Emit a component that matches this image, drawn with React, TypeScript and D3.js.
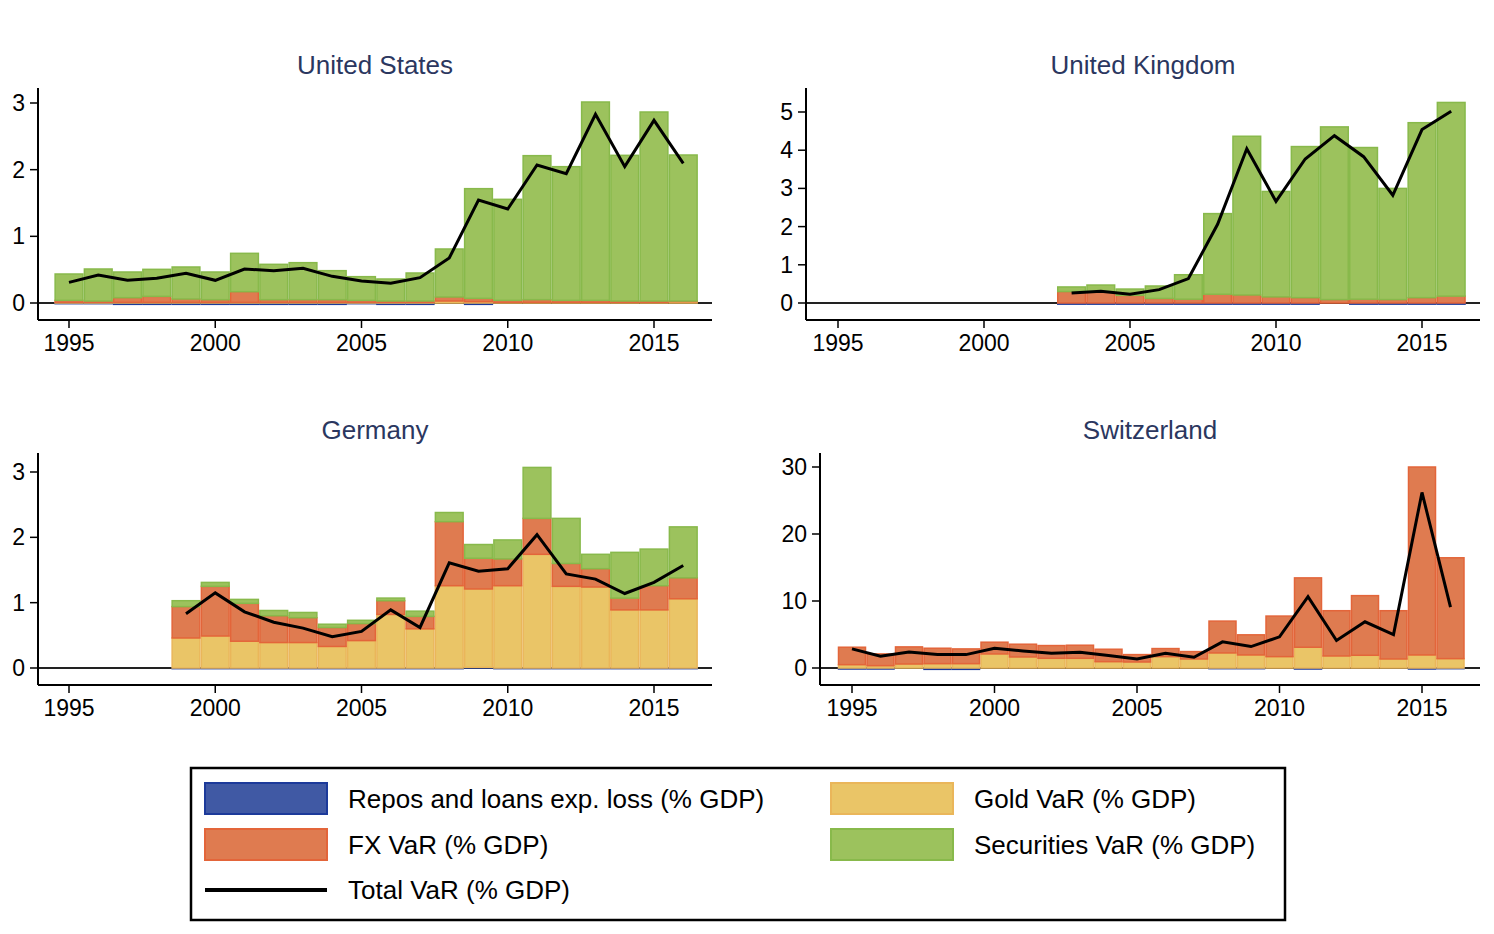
import React, { useEffect } from 'react';
import * as d3 from 'd3';

// ---- data (% of GDP) ----
const usYears = [1995, 1996, 1997, 1998, 1999, 2000, 2001, 2002, 2003, 2004, 2005, 2006, 2007, 2008, 2009, 2010, 2011, 2012, 2013, 2014, 2015, 2016];
const usRepos = [-0.01, -0.01, -0.02, -0.02, -0.02, -0.02, -0.02, -0.02, -0.02, -0.02, -0.01, -0.02, -0.02, 0, -0.02, 0, 0, 0, 0, 0, 0, 0];
const usGold = [0.01, 0.01, 0.01, 0.01, 0.01, 0.01, 0.01, 0.01, 0.01, 0.01, 0.01, 0.01, 0.01, 0.03, 0.02, 0.01, 0.01, 0.01, 0.01, 0.01, 0.01, 0.02];
const usFx = [0.03, 0.02, 0.07, 0.09, 0.05, 0.04, 0.16, 0.04, 0.04, 0.04, 0.03, 0.02, 0.02, 0.06, 0.05, 0.03, 0.04, 0.03, 0.03, 0.02, 0.02, 0.01];
const usSec = [0.395, 0.48, 0.385, 0.405, 0.48, 0.415, 0.575, 0.53, 0.555, 0.435, 0.355, 0.33, 0.42, 0.72, 1.645, 1.515, 2.16, 2.005, 2.975, 2.185, 2.835, 2.19];
const usTotal = [0.31, 0.42, 0.34, 0.37, 0.445, 0.34, 0.51, 0.485, 0.52, 0.4, 0.33, 0.295, 0.38, 0.675, 1.545, 1.41, 2.07, 1.94, 2.83, 2.045, 2.74, 2.095];

const ukYears = [2003, 2004, 2005, 2006, 2007, 2008, 2009, 2010, 2011, 2012, 2013, 2014, 2015, 2016];
const ukRepos = [-0.03, -0.03, -0.03, -0.03, -0.03, -0.03, -0.03, -0.03, -0.03, 0, -0.03, -0.03, -0.03, -0.03];
const ukGold = [0, 0, 0, 0, 0, 0, 0, 0, 0, 0, 0, 0, 0, 0];
const ukFx = [0.3, 0.29, 0.2, 0.12, 0.1, 0.23, 0.21, 0.16, 0.14, 0.09, 0.1, 0.09, 0.14, 0.18];
const ukSec = [0.12, 0.18, 0.165, 0.325, 0.64, 2.11, 4.155, 2.76, 3.955, 4.52, 3.97, 2.91, 4.58, 5.07];
const ukTotal = [0.26, 0.31, 0.23, 0.35, 0.64, 2.06, 4.04, 2.66, 3.77, 4.38, 3.83, 2.82, 4.54, 5.02];

const deYears = [1999, 2000, 2001, 2002, 2003, 2004, 2005, 2006, 2007, 2008, 2009, 2010, 2011, 2012, 2013, 2014, 2015, 2016];
const deRepos = [-0.01, -0.01, -0.01, -0.01, -0.01, -0.01, -0.01, -0.01, -0.01, -0.01, 0.01, -0.01, -0.01, -0.01, -0.01, -0.01, -0.01, -0.01];
const deGold = [0.46, 0.49, 0.41, 0.39, 0.39, 0.33, 0.42, 0.82, 0.6, 1.26, 1.2, 1.26, 1.74, 1.25, 1.24, 0.89, 0.89, 1.06];
const deFx = [0.48, 0.76, 0.58, 0.41, 0.38, 0.29, 0.26, 0.21, 0.19, 0.98, 0.47, 0.41, 0.55, 0.35, 0.28, 0.18, 0.37, 0.32];
const deSec = [0.09, 0.06, 0.06, 0.08, 0.08, 0.05, 0.05, 0.04, 0.08, 0.14, 0.21, 0.29, 0.78, 0.69, 0.22, 0.7, 0.56, 0.78];
const deTotal = [0.83, 1.15, 0.86, 0.7, 0.61, 0.48, 0.56, 0.89, 0.62, 1.61, 1.48, 1.52, 2.04, 1.44, 1.36, 1.14, 1.31, 1.57];

const chYears = [1995, 1996, 1997, 1998, 1999, 2000, 2001, 2002, 2003, 2004, 2005, 2006, 2007, 2008, 2009, 2010, 2011, 2012, 2013, 2014, 2015, 2016];
const chRepos = [-0.15, -0.15, 0, -0.2, -0.2, 0, 0, 0, 0, 0, 0, 0, 0, -0.1, -0.1, 0, -0.15, 0, 0, 0, -0.15, -0.1];
const chGold = [0.5, 0.35, 0.6, 0.65, 0.65, 2.1, 1.65, 1.45, 1.45, 0.95, 0.9, 1.7, 1.35, 2.25, 1.95, 1.7, 3.1, 1.8, 1.9, 1.35, 1.95, 1.4];
const chFx = [2.6, 1.75, 2.55, 2.3, 2.2, 1.75, 1.9, 1.9, 1.95, 1.85, 1.1, 1.2, 1.1, 4.75, 3.0, 6.05, 10.35, 6.75, 8.9, 7.2, 28.05, 15.05];
const chSec = [0, 0, 0, 0, 0, 0, 0, 0, 0, 0, 0, 0, 0, 0, 0, 0, 0, 0, 0, 0, 0, 0];
const chTotal = [2.85, 1.75, 2.4, 2.0, 2.0, 2.95, 2.55, 2.2, 2.35, 1.85, 1.35, 2.2, 1.6, 3.9, 3.2, 4.65, 10.65, 4.1, 6.9, 5.0, 26.2, 9.1];

const xTicks = [1995, 2000, 2005, 2010, 2015];
const usTicks = [0, 1, 2, 3];
const ukTicks = [0, 1, 2, 3, 4, 5];
const deTicks = [0, 1, 2, 3];
const chTicks = [0, 10, 20, 30];

const seriesKeys = ['repos', 'gold', 'fx', 'sec'];
const seriesLabels = ['Repos and loans exp. loss (% GDP)', 'Gold VaR (% GDP)', 'FX VaR (% GDP)', 'Securities VaR (% GDP)'];

const fills: Record<string, string> = { repos: '#4059a4', gold: '#eac567', fx: '#df7b50', sec: '#9cc25d' };
const strokes: Record<string, string> = { repos: '#1c3a9a', gold: '#eab65a', fx: '#e3653a', sec: '#88b94b' };

const FONT = '"Liberation Sans", Arial, Helvetica, sans-serif';

type PanelProps = {
  title: string;
  years: number[];
  repos: number[];
  gold: number[];
  fx: number[];
  sec: number[];
  total: number[];
  yTicks: number[];
  left: number;
  right: number;
  top: number;
  axisY: number;
  zeroY: number;
  maxY: number;
  x1995: number;
  x2015: number;
};

function Panel(p: PanelProps) {
  const x = d3.scaleLinear().domain([1995, 2015]).range([p.x1995, p.x2015]);
  const yMaxVal = p.yTicks[p.yTicks.length - 1];
  const y = d3.scaleLinear().domain([0, yMaxVal]).range([p.zeroY, p.maxY]);

  const rows = p.years.map((yr, i) => ({
    year: yr,
    repos: p.repos[i],
    gold: p.gold[i],
    fx: p.fx[i],
    sec: p.sec[i],
  }));

  const stacked = d3
    .stack<any>()
    .keys(seriesKeys)
    .offset(d3.stackOffsetDiverging)(rows);

  const line = d3
    .line<number>()
    .x((d, i) => x(p.years[i]))
    .y((d) => y(d));

  const cx = (p.left + p.right) / 2;

  return (
    <g>
      <text x={cx} y={p.top - 14} textAnchor="middle" fontFamily={FONT} fontSize={26} fill="#2b375f">
        {p.title}
      </text>

      {/* zero line sits under the bars */}
      <line x1={p.left} x2={p.right} y1={y(0)} y2={y(0)} stroke="#222" strokeWidth={1.8} />

      {stacked.map((layer) => (
        <g key={layer.key} fill={fills[layer.key]} stroke={strokes[layer.key]} strokeWidth={1.5}>
          {layer.map((d: any, i: number) => {
            const y0 = y(d[0]);
            const y1 = y(d[1]);
            const h = Math.abs(y0 - y1);
            if (h < 0.01) return null;
            const xa = x(d.data.year - 0.5);
            const xb = x(d.data.year + 0.5);
            return <rect key={i} x={xa + 0.75} y={Math.min(y0, y1)} width={xb - xa - 1.5} height={h} />;
          })}
        </g>
      ))}

      <path d={line(p.total) || ''} fill="none" stroke="#000" strokeWidth={3} strokeLinejoin="miter" />

      {/* axes */}
      <line x1={p.left} x2={p.left} y1={p.top} y2={p.axisY} stroke="#000" strokeWidth={2} />
      <line x1={p.left} x2={p.right} y1={p.axisY} y2={p.axisY} stroke="#000" strokeWidth={2} />

      {p.yTicks.map((t) => (
        <g key={t}>
          <line x1={p.left - 8} x2={p.left} y1={y(t)} y2={y(t)} stroke="#000" strokeWidth={1.5} />
          <text x={p.left - 13} y={y(t)} dy="0.35em" textAnchor="end" fontFamily={FONT} fontSize={23} fill="#000">
            {t}
          </text>
        </g>
      ))}

      {xTicks.map((t) => (
        <g key={t}>
          <line x1={x(t)} x2={x(t)} y1={p.axisY} y2={p.axisY + 8} stroke="#000" strokeWidth={1.5} />
          <text x={x(t)} y={p.axisY + 31} textAnchor="middle" fontFamily={FONT} fontSize={23} fill="#000">
            {t}
          </text>
        </g>
      ))}
    </g>
  );
}

function Legend() {
  const bx = 191, by = 768, bw = 1094, bh = 152;
  const col1 = 205, col2 = 831, sw = 122, sh = 31;
  const items = [
    { key: 'repos', label: seriesLabels[0], x: col1, y: 783 },
    { key: 'gold', label: seriesLabels[1], x: col2, y: 783 },
    { key: 'fx', label: seriesLabels[2], x: col1, y: 829 },
    { key: 'sec', label: seriesLabels[3], x: col2, y: 829 },
  ];
  return (
    <g fontFamily={FONT} fontSize={26} fill="#000">
      <rect x={bx} y={by} width={bw} height={bh} fill="#fff" stroke="#000" strokeWidth={2.5} />
      {items.map((it) => (
        <g key={it.key}>
          <rect x={it.x} y={it.y} width={sw} height={sh} fill={fills[it.key]} stroke={strokes[it.key]} strokeWidth={2} />
          <text x={it.x + 143} y={it.y + sh / 2} dy="0.35em">
            {it.label}
          </text>
        </g>
      ))}
      <line x1={col1} x2={col1 + sw} y1={890} y2={890} stroke="#000" strokeWidth={4} />
      <text x={col1 + 143} y={890} dy="0.35em">
        Total VaR (% GDP)
      </text>
    </g>
  );
}

export default function App() {
  useEffect(() => {
    document.body.style.margin = '0';
  }, []);

  return (
    <svg width={1494} height={934} style={{ display: 'block', background: '#fff' }}>
      <Panel title="United States" years={usYears} repos={usRepos} gold={usGold} fx={usFx} sec={usSec} total={usTotal}
        yTicks={usTicks} left={38} right={712} top={88} axisY={320} zeroY={303} maxY={103} x1995={69} x2015={654} />
      <Panel title="United Kingdom" years={ukYears} repos={ukRepos} gold={ukGold} fx={ukFx} sec={ukSec} total={ukTotal}
        yTicks={ukTicks} left={806} right={1480} top={88} axisY={320} zeroY={303} maxY={112} x1995={838} x2015={1422} />
      <Panel title="Germany" years={deYears} repos={deRepos} gold={deGold} fx={deFx} sec={deSec} total={deTotal}
        yTicks={deTicks} left={38} right={712} top={453} axisY={685} zeroY={668} maxY={472} x1995={69} x2015={654} />
      <Panel title="Switzerland" years={chYears} repos={chRepos} gold={chGold} fx={chFx} sec={chSec} total={chTotal}
        yTicks={chTicks} left={820} right={1480} top={453} axisY={685} zeroY={668} maxY={467} x1995={852} x2015={1422} />
      <Legend />
    </svg>
  );
}
